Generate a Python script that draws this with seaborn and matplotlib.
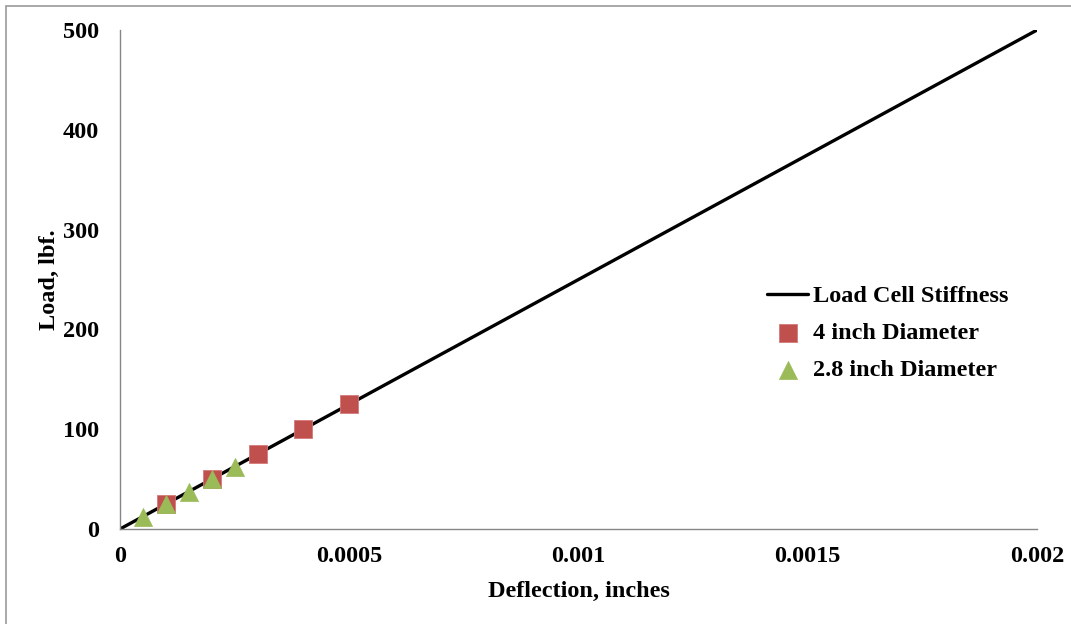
import numpy as np
import pandas as pd
import seaborn as sns
import matplotlib.pyplot as plt
from matplotlib.patches import Rectangle

# data
stiff_x = [0.0, 0.002]
stiff_y = [0.0, 500.0]
d4_x = [0.0001, 0.0002, 0.0003, 0.0004, 0.0005]
d4_y = [25, 50, 75, 100, 125]
d28_x = [0.00005, 0.0001, 0.00015, 0.0002, 0.00025]
d28_y = [12.5, 25, 37.5, 50, 62.5]
xticks = [0, 0.0005, 0.001, 0.0015, 0.002]
xtick_labels = ['0', '0.0005', '0.001', '0.0015', '0.002']
yticks = [0, 100, 200, 300, 400, 500]

sns.set_style('white')
plt.rcParams['font.family'] = ['Liberation Serif', 'DejaVu Serif']
plt.rcParams['font.weight'] = 'bold'
plt.rcParams['text.color'] = 'black'
plt.rcParams['axes.labelcolor'] = 'black'
plt.rcParams['xtick.labelcolor'] = 'black'
plt.rcParams['ytick.labelcolor'] = 'black'

fs = 17.5

fig = plt.figure(figsize=(10.71, 6.24), dpi=100)
ax = fig.add_axes([0.1120, 0.1522, 0.8563, 0.7997])

# outer chart border (gray frame)
fig.patches.append(Rectangle((6 / 1071, -0.05), 1.1, 1 - 6 / 624 + 0.05,
                             transform=fig.transFigure, fill=False,
                             edgecolor='#9a9a9a', linewidth=1.2))

sns.lineplot(x=stiff_x, y=stiff_y, ax=ax, color='black', linewidth=2.4,
             label='Load Cell Stiffness')
sns.scatterplot(x=d4_x, y=d4_y, ax=ax, marker='s', s=150, color='#C0504D',
                edgecolor='#d27a78', linewidth=0.6, label='4 inch Diameter', zorder=3)
sns.scatterplot(x=d28_x, y=d28_y, ax=ax, marker='^', s=170, color='#9BBB59',
                edgecolor='#9BBB59', linewidth=0.5, label='2.8 inch Diameter', zorder=4)

ax.set_xlim(0, 0.002)
ax.set_ylim(0, 500)
ax.set_xticks(xticks)
ax.set_xticklabels(xtick_labels)
ax.set_yticks(yticks)

for s in ['top', 'right']:
    ax.spines[s].set_visible(False)
for s in ['left', 'bottom']:
    ax.spines[s].set_color('#868686')
    ax.spines[s].set_linewidth(1.0)

ax.tick_params(axis='both', direction='out', length=6, width=1.0, color='#868686',
               labelsize=fs, pad=6, labelcolor='black')
ax.tick_params(axis='y', pad=9)
for lab in ax.get_xticklabels() + ax.get_yticklabels():
    lab.set_fontweight('bold')

ax.set_xlabel('Deflection, inches', fontsize=fs, fontweight='bold', labelpad=10,
              color='black')
ax.set_ylabel('Load, lbf.', fontsize=fs, fontweight='bold', labelpad=2,
              color='black')

leg = ax.legend(loc='upper left', bbox_to_anchor=(0.695, 0.508), frameon=False,
                prop={'size': fs, 'weight': 'bold'}, handlelength=1.7,
                handletextpad=0.2, labelspacing=0.62, borderaxespad=0)
for t in leg.get_texts():
    t.set_color('black')

fig.savefig('out.png', dpi=100)
